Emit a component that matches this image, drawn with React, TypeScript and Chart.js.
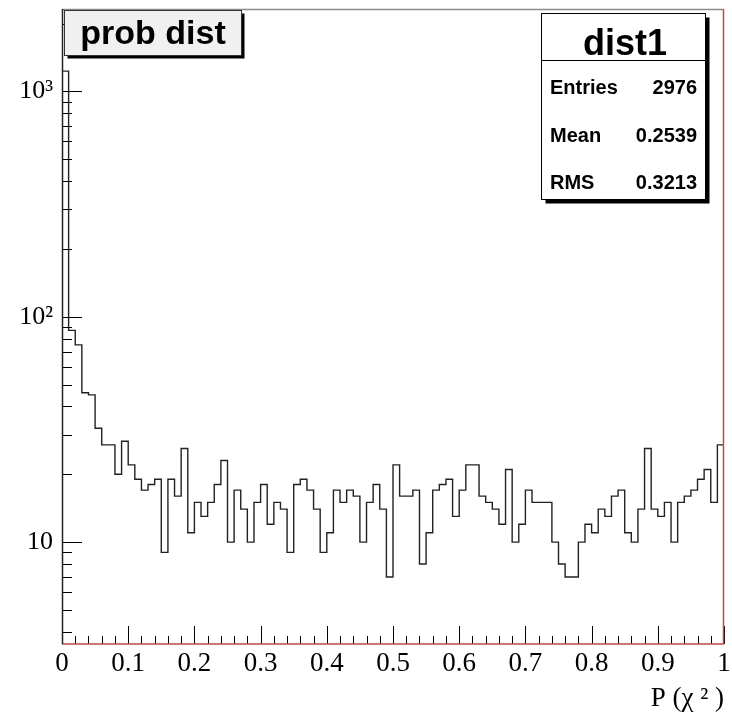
import { useEffect, useRef } from "react";
import { Chart, registerables } from "chart.js";

Chart.register(...registerables);

// ---- data ----
const xMin = 0;
const xMax = 1;
const counts = [
  1230, 87, 75, 46, 45, 32, 27, 27, 20, 28, 22, 19, 17, 18, 19, 9, 19, 16,
  26, 11, 15, 13, 15, 18, 23, 10, 17, 14, 10, 15, 18, 12, 15, 14, 9, 18, 19,
  17, 14, 9, 11, 17, 15, 17, 16,
  10, 15, 18, 14, 7, 22, 16, 16, 17, 8, 11, 17, 18, 19, 13, 17, 22, 22, 16,
  15, 14, 12, 21, 10, 12, 17,
  15, 15, 15, 10, 8, 7, 7, 10, 12, 11, 14, 13, 16, 17, 11, 10, 14, 26, 14,
  13, 15, 10, 15, 16, 17, 19, 21, 15, 27,
];
const xTickValues = [0, 0.1, 0.2, 0.3, 0.4, 0.5, 0.6, 0.7, 0.8, 0.9, 1];
const xTickLabels = ["0", "0.1", "0.2", "0.3", "0.4", "0.5", "0.6", "0.7", "0.8", "0.9", "1"];
const yTickValues = [10, 100, 1000];
const yTickLabels = ["10", "10\u00B2", "10\u00B3"];
const yMin = 3.53;
const yMax = 2320;
const xTitle = "P (\u03C7 \u00B2 )";
const histTitle = "prob dist";
const statsName = "dist1";
const statLabels = ["Entries", "Mean", "RMS"];
const statValues = ["2976", "0.2539", "0.3213"];

const SERIF = "'Liberation Serif', 'Times New Roman', serif";
const SANS = "'Liberation Sans', Arial, sans-serif";

const rootPlugin = {
  id: "rootFrame",
  afterDraw(chart: any) {
    const { ctx, chartArea: a, scales } = chart;
    const x = scales.x;
    const y = scales.y;
    ctx.save();
    // tick marks (inward)
    ctx.strokeStyle = "#000";
    ctx.lineWidth = 1;
    ctx.beginPath();
    const nMinor = 50;
    for (let k = 0; k <= nMinor; k++) {
      const v = xMin + ((xMax - xMin) * k) / nMinor;
      const px = Math.round(x.getPixelForValue(v)) + 0.5;
      const len = k % 5 === 0 ? 18 : 8;
      ctx.moveTo(px, a.bottom);
      ctx.lineTo(px, a.bottom - len);
    }
    for (const d of [1, 10, 100, 1000]) {
      for (let m = 1; m <= 9; m++) {
        const v = m * d;
        if (v < y.min || v > y.max) continue;
        const py = Math.round(y.getPixelForValue(v)) + 0.5;
        const len = m === 1 ? 20 : 10;
        ctx.moveTo(a.left, py);
        ctx.lineTo(a.left + len, py);
      }
    }
    ctx.stroke();

    // frame
    ctx.lineWidth = 1.5;
    ctx.strokeStyle = "#8a8a8a";
    ctx.beginPath();
    ctx.moveTo(a.left, a.top + 0.5);
    ctx.lineTo(a.right, a.top + 0.5);
    ctx.stroke();
    ctx.strokeStyle = "#c04848";
    ctx.beginPath();
    ctx.moveTo(a.right - 0.5, a.top);
    ctx.lineTo(a.right - 0.5, a.bottom);
    ctx.moveTo(a.left, a.bottom);
    ctx.lineTo(a.right, a.bottom);
    ctx.stroke();
    ctx.strokeStyle = "#222";
    ctx.beginPath();
    ctx.moveTo(a.left + 0.5, a.top);
    ctx.lineTo(a.left + 0.5, a.bottom);
    ctx.stroke();

    // title box
    const tb = { x: 64.5, y: 10.5, w: 177, h: 45 };
    ctx.fillStyle = "#000";
    ctx.fillRect(tb.x + 3, tb.y + 3, tb.w, tb.h);
    ctx.fillStyle = "#f0f0f0";
    ctx.fillRect(tb.x, tb.y, tb.w, tb.h);
    ctx.strokeStyle = "#333";
    ctx.lineWidth = 1;
    ctx.strokeRect(tb.x, tb.y, tb.w, tb.h);
    ctx.fillStyle = "#000";
    ctx.font = `bold 34px ${SANS}`;
    ctx.textAlign = "center";
    ctx.textBaseline = "alphabetic";
    ctx.fillText(histTitle, tb.x + tb.w / 2, 43.5);

    // stats box
    const sb = { x: 541.5, y: 13.5, w: 164, h: 186 };
    ctx.fillStyle = "#000";
    ctx.fillRect(sb.x + 4, sb.y + 4, sb.w, sb.h);
    ctx.fillStyle = "#fff";
    ctx.fillRect(sb.x, sb.y, sb.w, sb.h);
    ctx.strokeStyle = "#000";
    ctx.strokeRect(sb.x, sb.y, sb.w, sb.h);
    ctx.beginPath();
    ctx.moveTo(sb.x, 60.5);
    ctx.lineTo(sb.x + sb.w, 60.5);
    ctx.stroke();
    ctx.fillStyle = "#000";
    ctx.font = `bold 36px ${SANS}`;
    ctx.textAlign = "center";
    ctx.fillText(statsName, 625, 55);
    ctx.font = `bold 20px ${SANS}`;
    const rowBase = [93.5, 141.5, 188.5];
    statLabels.forEach((lab, i) => {
      ctx.textAlign = "left";
      ctx.fillText(lab, 550, rowBase[i]);
      ctx.textAlign = "right";
      ctx.fillText(statValues[i], 697, rowBase[i]);
    });
    ctx.restore();
  },
};

export default function App() {
  const ref = useRef<HTMLCanvasElement>(null);
  useEffect(() => {
    if (!ref.current) return;
    const nBins = counts.length;
    const bw = (xMax - xMin) / nBins;
    const pts = counts.map((c, i) => ({ x: xMin + i * bw, y: c }));
    pts.push({ x: xMax, y: counts[nBins - 1] });
    const chart = new Chart(ref.current, {
      type: "line",
      data: {
        datasets: [
          {
            data: pts,
            stepped: "before",
            borderColor: "#222",
            borderWidth: 1.4,
            pointRadius: 0,
            fill: false,
          },
        ],
      },
      options: {
        animation: false,
        responsive: false,
        devicePixelRatio: 1,
        layout: { padding: { top: 9, right: 8, bottom: 0, left: 0 } },
        plugins: { legend: { display: false }, tooltip: { enabled: false } },
        scales: {
          x: {
            type: "linear",
            min: xMin,
            max: xMax,
            afterBuildTicks: (s: any) => {
              s.ticks = xTickValues.map((v) => ({ value: v }));
            },
            afterFit: (s: any) => {
              s.height = 71;
              s.paddingLeft = 0;
              s.paddingRight = 0;
            },
            ticks: {
              callback: (_v: any, i: number) => xTickLabels[i],
              font: { family: SERIF, size: 27 },
              color: "#000",
              padding: 4,
              maxRotation: 0,
              autoSkip: false,
            },
            grid: { display: false, drawTicks: false },
            border: { display: false },
            title: {
              display: true,
              text: xTitle,
              align: "end",
              color: "#000",
              font: { family: SERIF, size: 27 },
              padding: { top: 0, bottom: 0 },
            },
          },
          y: {
            type: "logarithmic",
            min: yMin,
            max: yMax,
            afterBuildTicks: (s: any) => {
              s.ticks = yTickValues.map((v) => ({ value: v }));
            },
            afterFit: (s: any) => {
              s.width = 62;
              s.paddingTop = 0;
              s.paddingBottom = 0;
            },
            ticks: {
              callback: (_v: any, i: number) => yTickLabels[i],
              font: { family: SERIF, size: 26 },
              color: "#000",
              padding: 9,
              autoSkip: false,
            },
            grid: { display: false, drawTicks: false },
            border: { display: false },
          },
        },
      },
      plugins: [rootPlugin],
    } as any);
    return () => chart.destroy();
  }, []);
  return (
    <div style={{ position: "absolute", left: 0, top: 0, width: 732, height: 715, background: "#fff" }}>
      <canvas ref={ref} width={732} height={715} style={{ display: "block" }} />
    </div>
  );
}
